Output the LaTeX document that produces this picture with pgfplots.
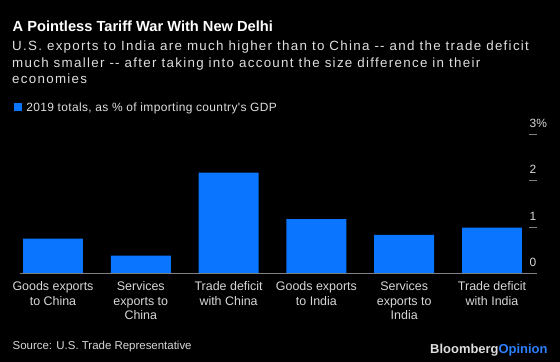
\documentclass[border=0pt]{standalone}
\usepackage{fontspec}
\setmainfont{Liberation Sans}
\newfontfamily\subfont[LetterSpace=9.7]{Liberation Sans}
\newfontfamily\legfont[LetterSpace=3]{Liberation Sans}
\usepackage{pgfplots}
\pgfplotsset{compat=1.18}
\definecolor{barblue}{RGB}{10,117,255}
\definecolor{opinionblue}{RGB}{45,128,255}
\definecolor{axisgray}{RGB}{128,128,128}
\definecolor{subgray}{RGB}{222,222,222}
\definecolor{labelgray}{RGB}{215,215,215}
\begin{document}
\begin{tikzpicture}
\fill[black] (0,0) rectangle (560bp,362bp);
\node[anchor=base west, inner sep=0pt, text=white, font=\bfseries\fontsize{14.7}{17}\selectfont] at (12.5bp,330.3bp) {A Pointless Tariff War With New Delhi};
\node[anchor=base west, inner sep=0pt, text=subgray, font=\subfont\fontsize{13.4}{17}\selectfont] at (12bp,311.7bp) {U.S. exports to India are much higher than to China {-}{-} and the trade deficit};
\node[anchor=base west, inner sep=0pt, text=subgray, font=\subfont\fontsize{13.4}{17}\selectfont] at (12bp,294.7bp) {much smaller {-}{-} after taking into account the size difference in their};
\node[anchor=base west, inner sep=0pt, text=subgray, font=\subfont\fontsize{13.4}{17}\selectfont] at (12bp,278bp) {economies};
\fill[barblue] (14bp,250.7bp) rectangle (22bp,258.7bp);
\node[anchor=base west, inner sep=0pt, text=subgray, font=\legfont\fontsize{12}{14}\selectfont] at (26.2bp,250.3bp) {2019 totals, as \% of importing country's GDP};
\begin{axis}[
  at={(20bp,88.7bp)}, anchor=south west,
  scale only axis, width=517bp, height=138.6bp,
  xmin=-0.3758, xmax=5.5125, ymin=0, ymax=3,
  axis x line=bottom, axis y line=right,
  x axis line style={-, draw=axisgray, line width=1bp},
  y axis line style={draw=none},
  axis on top,
  clip=false,
  xtick={0,1,2,3,4,5},
  xticklabels={{Goods exports\\to China},{Services\\exports to\\China},{Trade deficit\\with China},{Goods exports\\to India},{Services\\exports to\\India},{Trade deficit\\with India}},
  xtick style={draw=none},
  xticklabel style={align=center, anchor=north, inner sep=0pt, yshift=-8.2bp, text=labelgray, font=\fontsize{12.5}{14.5}\selectfont},
  ytick={0,1,2,3},
  yticklabels={0,1,2,3\%},
  ytick style={draw=axisgray, line width=1bp},
  tick align=inside,
  major tick length=8.5bp,
  yticklabel style={anchor=base west, inner sep=0pt, xshift=-7.5bp, yshift=7bp, text=labelgray, font=\fontsize{12}{14}\selectfont},
]
\addplot[ybar, bar width=0.683, fill=barblue, draw=none] coordinates {(0,0.75) (1,0.38) (2,2.18) (3,1.175) (4,0.83) (5,0.99)};
\end{axis}
\node[anchor=base west, inner sep=0pt, text=labelgray, font=\fontsize{11.5}{14}\selectfont] at (12.5bp,13bp) {Source: U.S. Trade Representative};
\node[anchor=base east, inner sep=0pt, font=\bfseries\fontsize{13}{15}\selectfont] at (547.7bp,8.5bp) {\textcolor{subgray}{Bloomberg}\textcolor{opinionblue}{Opinion}};
\end{tikzpicture}
\end{document}
